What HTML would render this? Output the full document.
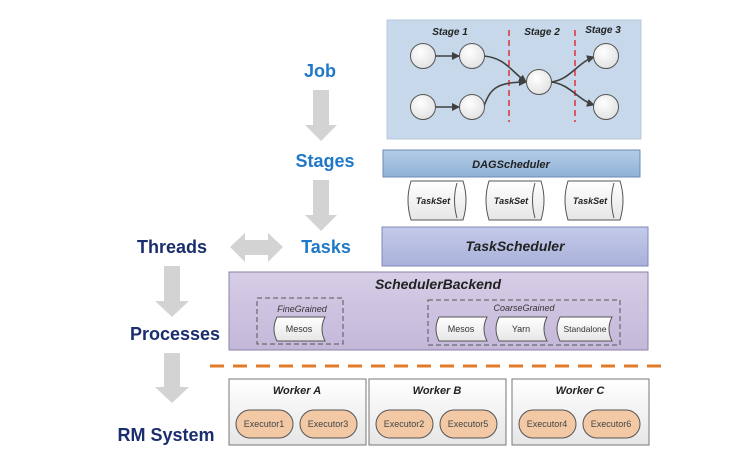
<!DOCTYPE html>
<html><head><meta charset="utf-8"><style>
html,body{margin:0;padding:0;background:#fff;}
svg{display:block;}
text{font-family:"Liberation Sans",sans-serif;}
</style></head><body>
<svg width="732" height="462" viewBox="0 0 732 462" xmlns="http://www.w3.org/2000/svg">
<defs>
<linearGradient id="gDag" x1="0" y1="0" x2="0" y2="1"><stop offset="0" stop-color="#b3cce6"/><stop offset="1" stop-color="#8fb2d6"/></linearGradient>
<linearGradient id="gTs" x1="0" y1="0" x2="0" y2="1"><stop offset="0" stop-color="#c4cae8"/><stop offset="1" stop-color="#a9b1db"/></linearGradient>
<linearGradient id="gSb" x1="0" y1="0" x2="0" y2="1"><stop offset="0" stop-color="#d6cde6"/><stop offset="1" stop-color="#c4b8d9"/></linearGradient>
<linearGradient id="gW" x1="0" y1="0" x2="0" y2="1"><stop offset="0" stop-color="#ffffff"/><stop offset="1" stop-color="#e6e6e6"/></linearGradient>
<radialGradient id="gC" cx="0.4" cy="0.35" r="0.7"><stop offset="0" stop-color="#ffffff"/><stop offset="1" stop-color="#e0e0e0"/></radialGradient>
<marker id="ah" markerWidth="8" markerHeight="8" refX="7" refY="4" orient="auto" markerUnits="userSpaceOnUse"><path d="M0,0 L8,4 L0,8 z" fill="#404040"/></marker>
</defs>

<!-- DAG panel -->
<rect x="387" y="20" width="254" height="119" fill="#c6d8ea" stroke="#b8cadc"/>
<g font-size="10" font-weight="bold" font-style="italic" fill="#222" text-anchor="middle">
<text x="450" y="35">Stage 1</text><text x="542" y="35">Stage 2</text><text x="603" y="33">Stage 3</text>
</g>
<line x1="509" y1="30" x2="509" y2="122" stroke="#e0303a" stroke-width="1.5" stroke-dasharray="6,4"/>
<line x1="575" y1="30" x2="575" y2="122" stroke="#e0303a" stroke-width="1.5" stroke-dasharray="6,4"/>
<g stroke="#404040" stroke-width="1.6" fill="none">
<line x1="435" y1="56" x2="459" y2="56" marker-end="url(#ah)"/>
<line x1="435" y1="107" x2="459" y2="107" marker-end="url(#ah)"/>
<path d="M484,56 C505,58 510,70 526,82" marker-end="url(#ah)"/>
<path d="M484,106 C490,90 495,82 526,82" marker-end="url(#ah)"/>
<path d="M551,82 C570,80 578,62 594,57" marker-end="url(#ah)"/>
<path d="M551,82 C570,84 578,100 594,105" marker-end="url(#ah)"/>
</g>
<g fill="url(#gC)" stroke="#555" stroke-width="1">
<circle cx="423" cy="56" r="12.5"/><circle cx="472" cy="56" r="12.5"/>
<circle cx="423" cy="107" r="12.5"/><circle cx="472" cy="107" r="12.5"/>
<circle cx="539" cy="82" r="12.5"/><circle cx="606" cy="56" r="12.5"/><circle cx="606" cy="107" r="12.5"/>
</g>

<!-- DAGScheduler -->
<rect x="383" y="150" width="257" height="27" fill="url(#gDag)" stroke="#6a8cb0"/>
<text x="511" y="168" font-size="11" font-weight="bold" font-style="italic" text-anchor="middle" fill="#222">DAGScheduler</text>

<!-- TaskSets -->
<g font-size="9" font-weight="bold" font-style="italic" text-anchor="middle" fill="#222">
<g transform="translate(405,181)"><path d="M6,0 H58 Q64,19 58,39 H6 Q0,19 6,0 z" fill="url(#gW)" stroke="#555"/><path d="M52,2 Q47,19 52,37" fill="none" stroke="#555"/><text x="28" y="23">TaskSet</text></g>
<g transform="translate(483,181)"><path d="M6,0 H58 Q64,19 58,39 H6 Q0,19 6,0 z" fill="url(#gW)" stroke="#555"/><path d="M52,2 Q47,19 52,37" fill="none" stroke="#555"/><text x="28" y="23">TaskSet</text></g>
<g transform="translate(562,181)"><path d="M6,0 H58 Q64,19 58,39 H6 Q0,19 6,0 z" fill="url(#gW)" stroke="#555"/><path d="M52,2 Q47,19 52,37" fill="none" stroke="#555"/><text x="28" y="23">TaskSet</text></g>
</g>

<!-- TaskScheduler -->
<rect x="382" y="227" width="266" height="39" fill="url(#gTs)" stroke="#7f88b8"/>
<text x="515" y="251" font-size="14" font-weight="bold" font-style="italic" text-anchor="middle" fill="#222">TaskScheduler</text>

<!-- SchedulerBackend -->
<rect x="229" y="272" width="419" height="78" fill="url(#gSb)" stroke="#8d80a8"/>
<text x="438" y="289" font-size="14" font-weight="bold" font-style="italic" text-anchor="middle" fill="#222">SchedulerBackend</text>
<rect x="257" y="298" width="86" height="46" fill="none" stroke="#555" stroke-dasharray="5,3"/>
<text x="302" y="312" font-size="9" font-style="italic" text-anchor="middle" fill="#333">FineGrained</text>
<rect x="428" y="300" width="192" height="45" fill="none" stroke="#555" stroke-dasharray="5,3"/>
<text x="524" y="311" font-size="9" font-style="italic" text-anchor="middle" fill="#333">CoarseGrained</text>
<g font-size="9" text-anchor="middle" fill="#333">
<g transform="translate(272,317)"><path d="M5,0 H53 Q47,12 53,24 H5 Q-1,12 5,0 z" fill="url(#gW)" stroke="#555"/><text x="27" y="15">Mesos</text></g>
<g transform="translate(434,317)"><path d="M5,0 H53 Q47,12 53,24 H5 Q-1,12 5,0 z" fill="url(#gW)" stroke="#555"/><text x="27" y="15">Mesos</text></g>
<g transform="translate(494,317)"><path d="M5,0 H53 Q47,12 53,24 H5 Q-1,12 5,0 z" fill="url(#gW)" stroke="#555"/><text x="27" y="15">Yarn</text></g>
<g transform="translate(555,317)"><path d="M5,0 H57 Q51,12 57,24 H5 Q-1,12 5,0 z" fill="url(#gW)" stroke="#555"/><text x="30" y="15" font-size="8.5">Standalone</text></g>
</g>

<!-- orange dashed -->
<line x1="210" y1="366" x2="668" y2="366" stroke="#e07b2a" stroke-width="3" stroke-dasharray="14,9"/>

<!-- Workers -->
<g font-size="9" text-anchor="middle" fill="#444">
<rect x="229" y="379" width="137" height="66" fill="url(#gW)" stroke="#777"/>
<text x="297" y="394" font-size="11" font-weight="bold" font-style="italic" fill="#222">Worker A</text>
<rect x="236" y="410" width="57" height="28" rx="14" fill="#f2c9a4" stroke="#555"/><text x="264" y="427">Executor1</text>
<rect x="300" y="410" width="57" height="28" rx="14" fill="#f2c9a4" stroke="#555"/><text x="328" y="427">Executor3</text>
<rect x="369" y="379" width="137" height="66" fill="url(#gW)" stroke="#777"/>
<text x="437" y="394" font-size="11" font-weight="bold" font-style="italic" fill="#222">Worker B</text>
<rect x="376" y="410" width="57" height="28" rx="14" fill="#f2c9a4" stroke="#555"/><text x="404" y="427">Executor2</text>
<rect x="440" y="410" width="57" height="28" rx="14" fill="#f2c9a4" stroke="#555"/><text x="468" y="427">Executor5</text>
<rect x="512" y="379" width="137" height="66" fill="url(#gW)" stroke="#777"/>
<text x="580" y="394" font-size="11" font-weight="bold" font-style="italic" fill="#222">Worker C</text>
<rect x="519" y="410" width="57" height="28" rx="14" fill="#f2c9a4" stroke="#555"/><text x="547" y="427">Executor4</text>
<rect x="583" y="410" width="57" height="28" rx="14" fill="#f2c9a4" stroke="#555"/><text x="611" y="427">Executor6</text>
</g>

<!-- gray arrows -->
<g fill="#d3d3d3">
<path d="M313,90 H329 V125 H337 L321,141 L305,125 H313 z"/>
<path d="M313,180 H329 V215 H337 L321,231 L305,215 H313 z"/>
<path d="M230,247 L245,233 V240 H268 V233 L283,247 L268,262 V255 H245 V262 z"/>
<path d="M164,266 H180 V301 H189 L172,317 L155,301 H164 z"/>
<path d="M164,353 H180 V387 H189 L172,403 L155,387 H164 z"/>
</g>

<!-- left labels -->
<g font-size="18" font-weight="bold" text-anchor="middle">
<text x="320" y="77" fill="#1f78c8">Job</text>
<text x="325" y="167" fill="#1f78c8">Stages</text>
<text x="326" y="253" fill="#1f78c8">Tasks</text>
<text x="172" y="253" fill="#1a2e6e">Threads</text>
<text x="175" y="340" fill="#1a2e6e">Processes</text>
<text x="166" y="441" fill="#1a2e6e">RM System</text>
</g>
</svg>
</body></html>
